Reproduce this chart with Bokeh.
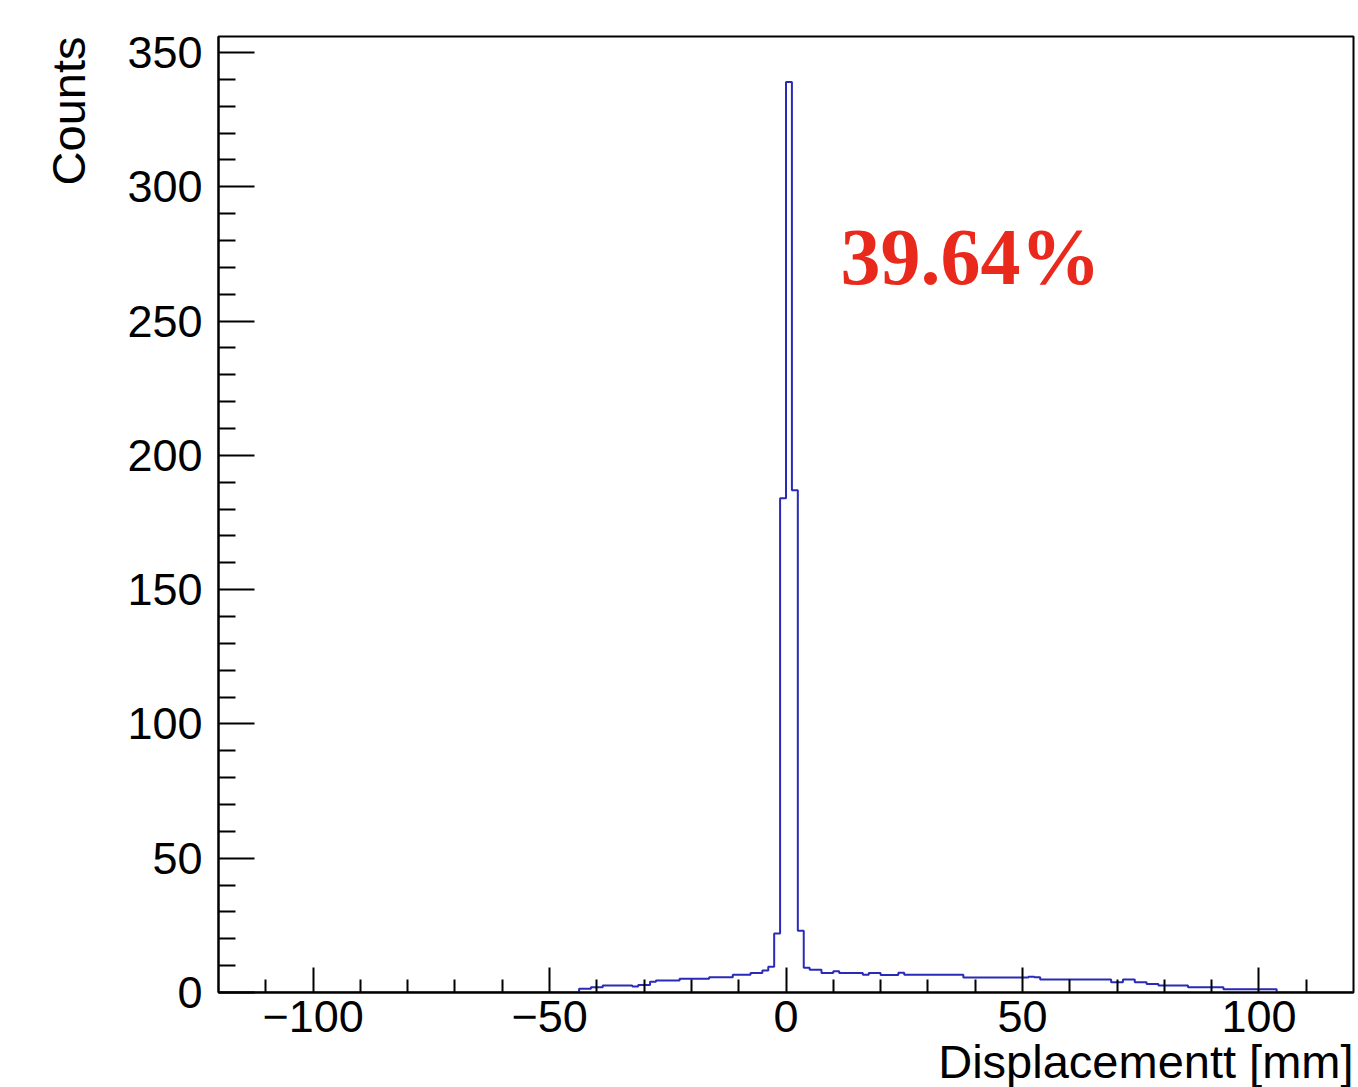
import numpy as np
from bokeh.plotting import figure
from bokeh.models import Range1d, FixedTicker, Label, Title
from bokeh.embed import file_html
from bokeh.resources import INLINE

# ---------------- data ----------------
x_min, x_max = -120.0, 120.0
bin_width = 1.25
tail_start = -45.0          # left edge of the first listed bin
counts = [
    0, 1.4, 1.4, 2.0, 2.0, 2.6, 2.6, 2.6, 2.6, 2.6,
    2.2, 2.8, 2.8, 4.0, 4.5, 4.5, 4.5, 4.5, 5.1, 5.1,
    5.1, 5.1, 5.1, 5.7, 5.7, 5.7, 5.7, 6.6, 6.6, 6.6,
    7.3, 7.3, 8.2, 9.6, 22, 184, 339, 187, 23, 9.2,
    8.5, 8.5, 7.3, 7.3, 7.9, 7.3, 7.3, 7.3, 7.3, 6.6,
    7.3, 7.3, 6.5, 6.5, 6.5, 7.4, 6.6, 6.6, 6.6, 6.6,
    6.6, 6.6, 6.6, 6.6, 6.6, 6.6, 5.6, 5.6, 5.6, 5.6,
    5.6, 5.6, 5.6, 5.6, 5.6, 5.6, 5.6, 5.9, 5.7, 4.8,
    4.8, 4.8, 4.8, 4.8, 4.8, 4.8, 4.8, 4.8, 4.8, 4.8,
    4.8, 3.8, 3.8, 4.8, 4.8, 3.8, 3.8, 3.2, 3.2, 2.6,
    2.6, 2.6, 2.6, 2.6, 2.0, 2.0, 2.0, 2.0, 2.0, 2.0,
    1.2, 1.2, 1.2, 1.2, 1.2, 1.2, 1.2, 1.2, 1.2,
]
y_max = 355.95
x_ticks = [-100, -50, 0, 50, 100]
x_minor = [-110, -90, -80, -70, -60, -40, -30, -20, -10, 10, 20, 30, 40, 60, 70, 80, 90, 110]
y_ticks = [0, 50, 100, 150, 200, 250, 300, 350]
y_minor = [v for v in range(10, 351, 10) if v % 50 != 0]
x_tick_labels = {-100: "\u2212100", -50: "\u221250", 0: "0", 50: "50", 100: "100"}
x_title = "Displacementt [mm]"
y_title = "Counts"
annotation_text = "39.64%"
annotation_x, annotation_y = 11.5, 274.0

# build full histogram (zero bins outside the listed range)
n_bins = int(round((x_max - x_min) / bin_width))
n_left = int(round((tail_start - x_min) / bin_width))
full = np.zeros(n_bins)
full[n_left:n_left + len(counts)] = counts
edges = x_min + bin_width * np.arange(n_bins + 1)
ys = np.append(full, full[-1])

# ---------------- figure ----------------
W, H = 1358, 1087
p = figure(width=W, height=H, output_backend="svg", toolbar_location=None,
           x_range=Range1d(x_min, x_max), y_range=Range1d(0, y_max),
           min_border_left=218, min_border_right=5, min_border_top=36,
           min_border_bottom=95)
p.background_fill_color = "white"
p.border_fill_color = "white"
p.outline_line_color = "black"
p.outline_line_width = 2
p.xgrid.visible = False
p.ygrid.visible = False

p.step(x=edges, y=ys, mode="after", line_color="#2a2ab8", line_width=2)

font = "Liberation Sans"
for ax in (p.xaxis[0], p.yaxis[0]):
    ax.axis_line_color = "black"
    ax.axis_line_width = 2
    ax.major_tick_line_color = "black"
    ax.major_tick_line_width = 2
    ax.minor_tick_line_color = "black"
    ax.minor_tick_line_width = 2
    ax.major_tick_out = 0
    ax.minor_tick_out = 0
    ax.major_label_text_font = font
    ax.major_label_text_font_size = "45px"
    ax.major_label_text_color = "black"

xa, ya = p.xaxis[0], p.yaxis[0]
xa.ticker = FixedTicker(ticks=x_ticks, minor_ticks=x_minor)
xa.major_label_overrides = x_tick_labels
xa.major_tick_in = 25
xa.minor_tick_in = 13
xa.major_label_standoff = 8

ya.ticker = FixedTicker(ticks=y_ticks, minor_ticks=y_minor)
ya.major_tick_in = 36
ya.minor_tick_in = 17
ya.major_label_standoff = 16

p.add_layout(Title(text=y_title, align="right", text_font=font,
                   text_font_size="47px", text_font_style="normal",
                   text_color="black", standoff=60), "left")
p.add_layout(Title(text=x_title, align="right", text_font=font,
                   text_font_size="47px", text_font_style="normal",
                   text_color="black", standoff=-3), "below")

p.add_layout(Label(x=annotation_x, y=annotation_y, text=annotation_text,
                   text_align="left", text_baseline="alphabetic",
                   text_font="Liberation Serif", text_font_style="bold",
                   text_font_size="80px", text_color="#e8291c"))

open("out.html", "w").write(file_html(p, INLINE))
